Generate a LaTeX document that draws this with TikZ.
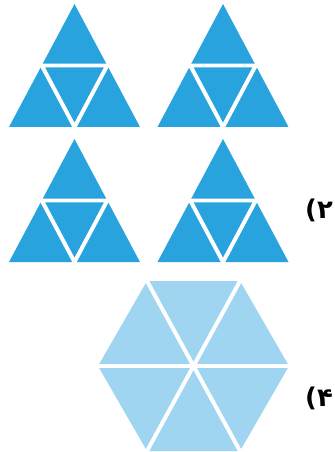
\documentclass[tikz,border=0pt]{standalone}
\usepackage{fontspec}
\newfontfamily\arabicfont[Script=Arabic]{DejaVu Sans}
\definecolor{TriBlue}{HTML}{29A3DD}
\definecolor{HexBlue}{HTML}{9FD5F1}
\tikzset{
  gap/.style={white, line width=3.4pt},
  optlabel/.style={font=\arabicfont\bfseries\fontsize{22}{26}\selectfont, inner sep=0pt, anchor=west}
}
\begin{document}
\begin{tikzpicture}[x=0.03cm, y=-0.03cm]
  \useasboundingbox (0,0) rectangle (334,452);
  % four triangles made of four small ones
  \foreach \ax/\ay in {74.5/4, 223/4, 74.5/139, 223/139} {
    \fill[TriBlue] (\ax,\ay) -- (\ax-65.5,\ay+123) -- (\ax+65.5,\ay+123) -- cycle;
    \draw[gap] (\ax-32.75,\ay+61.5) -- (\ax+32.75,\ay+61.5)
      -- (\ax,\ay+123) -- cycle;
  }
  % hexagon of six triangles
  \fill[HexBlue] (98,366) -- (147,281) -- (240,281) -- (289,366)
    -- (240,451) -- (147,451) -- cycle;
  \draw[gap] (98,366) -- (289,366);
  \draw[gap] (147,281) -- (240,451);
  \draw[gap] (240,281) -- (147,451);
  % option labels
  \node[optlabel] (opt2) at (305,210) {۲)};
  \node[optlabel] (opt4) at (305,398) {۴)};
\end{tikzpicture}
\end{document}
